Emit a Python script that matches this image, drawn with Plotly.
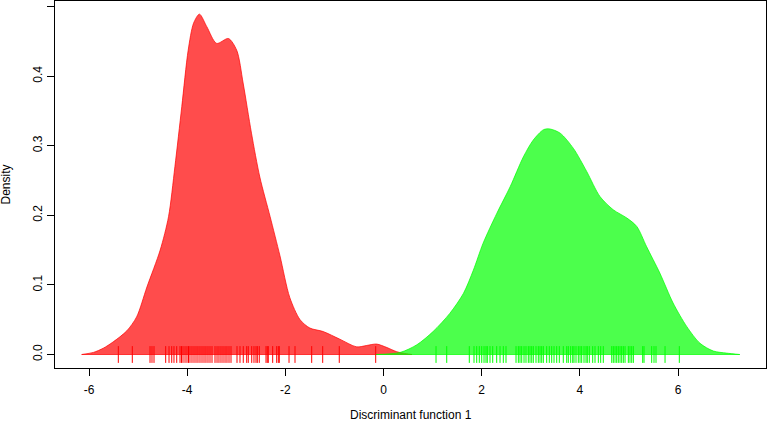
import plotly.graph_objects as go

# Density curve of group 1 (red)
red_x = [-6.15, -5.91, -5.71, -5.51, -5.23, -5.03, -4.82, -4.55, -4.38, -4.25, -4.11, -3.98,
         -3.87, -3.75, -3.60, -3.40, -3.16, -2.99, -2.86, -2.69, -2.52, -2.31, -2.11, -1.91,
         -1.70, -1.50, -1.23, -0.89, -0.55, -0.34, -0.14, 0.07, 0.27, 0.47, 0.58]
red_y = [0.000, 0.003, 0.009, 0.018, 0.034, 0.054, 0.097, 0.150, 0.198, 0.270, 0.356, 0.437,
         0.476, 0.489, 0.471, 0.447, 0.454, 0.437, 0.390, 0.318, 0.255, 0.198, 0.142, 0.082,
         0.050, 0.038, 0.033, 0.022, 0.011, 0.013, 0.015, 0.010, 0.004, 0.001, 0.000]

# Density curve of group 2 (green)
green_x = [-0.16, 0.34, 0.68, 1.01, 1.35, 1.63, 1.83, 2.03, 2.31, 2.58, 2.85, 3.05, 3.26, 3.39,
           3.60, 3.87, 4.14, 4.41, 4.68, 4.96, 5.16, 5.36, 5.63, 5.90, 6.18, 6.45, 6.72, 6.99, 7.26]
green_y = [0.000, 0.003, 0.014, 0.033, 0.059, 0.088, 0.121, 0.160, 0.203, 0.241, 0.284, 0.308,
           0.323, 0.324, 0.318, 0.296, 0.263, 0.227, 0.208, 0.196, 0.184, 0.155, 0.117, 0.074,
           0.040, 0.016, 0.005, 0.002, 0.000]

# Individual scores (rug)
red_rug = [-5.403, -5.118, -4.757, -4.717, -4.676, -4.438, -4.370, -4.315, -4.269, -4.213,
           -4.146, -4.116, -4.085, -4.044, -4.004, -3.973, -3.943, -3.902, -3.861, -3.820,
           -3.780, -3.739, -3.698, -3.657, -3.617, -3.576, -3.535, -3.494, -3.433, -3.392,
           -3.352, -3.311, -3.270, -3.229, -3.189, -3.148, -3.107, -2.985, -2.924, -2.857,
           -2.787, -2.755, -2.685, -2.639, -2.598, -2.571, -2.531, -2.394, -2.368, -2.347,
           -2.258, -2.176, -2.143, -2.123, -1.925, -1.803, -1.463, -1.239, -0.901, -0.159]
green_rug = [1.070, 1.288, 1.748, 1.844, 1.899, 1.952, 2.001, 2.048, 2.088, 2.115, 2.170,
             2.225, 2.306, 2.374, 2.441, 2.496, 2.700, 2.747, 2.781, 2.816, 2.863, 2.903,
             2.950, 2.985, 3.020, 3.052, 3.107, 3.154, 3.189, 3.223, 3.256, 3.325, 3.378,
             3.427, 3.474, 3.529, 3.582, 3.663, 3.733, 3.765, 3.814, 3.855, 3.881, 3.922,
             3.969, 4.004, 4.038, 4.085, 4.126, 4.152, 4.193, 4.262, 4.309, 4.377, 4.425,
             4.478, 4.650, 4.682, 4.717, 4.751, 4.784, 4.819, 4.853, 4.886, 4.921, 4.988,
             5.022, 5.057, 5.090, 5.281, 5.308, 5.464, 5.511, 5.552, 5.736, 6.027]

x_ticks = [-6, -4, -2, 0, 2, 4, 6]
y_ticks = [0.0, 0.1, 0.2, 0.3, 0.4, 0.5]
y_tick_labels = ["0.0", "0.1", "0.2", "0.3", "0.4", "0.5"]

FONT = "Liberation Sans, Arial, sans-serif"

fig = go.Figure()

groups = [
    (red_x, red_y, red_rug, "rgba(255,0,0,0.7)", "#ff0000"),
    (green_x, green_y, green_rug, "rgba(0,255,0,0.7)", "#00ff00"),
]
for cx, cy, rug, fillc, solid in groups:
    fig.add_trace(go.Scatter(
        x=cx, y=cy, mode="lines", fill="tozeroy", fillcolor=fillc,
        line=dict(color=fillc, width=1, shape="spline", smoothing=0.8),
        hoverinfo="skip", showlegend=False))
    fig.add_trace(go.Scatter(
        x=[cx[0], cx[-1]], y=[0, 0], mode="lines",
        line=dict(color=fillc, width=1), hoverinfo="skip", showlegend=False))
for cx, cy, rug, fillc, solid in groups:
    fig.add_trace(go.Scatter(
        x=rug, y=[0] * len(rug), mode="markers",
        marker=dict(symbol="line-ns", size=12, color=solid, line=dict(color=solid, width=1)),
        hoverinfo="skip", showlegend=False))

fig.update_layout(
    width=767, height=423,
    margin=dict(l=55, r=1, t=1, b=55),
    paper_bgcolor="white", plot_bgcolor="white",
    font=dict(family=FONT, size=12, color="black"),
    xaxis=dict(range=[-6.693, 7.793], tickvals=x_ticks, ticktext=[str(v) for v in x_ticks],
               showgrid=False, zeroline=False, showline=True, mirror=True,
               linecolor="black", linewidth=1, ticks="outside", ticklen=7,
               tickcolor="black", tickfont=dict(size=12), ticklabelstandoff=4),
    yaxis=dict(range=[-0.0194, 0.5079], tickvals=y_ticks, ticktext=y_tick_labels,
               tickangle=-90, showgrid=False, zeroline=False, showline=True, mirror=True,
               linecolor="black", linewidth=1, ticks="outside", ticklen=7,
               tickcolor="black", tickfont=dict(size=12)),
    annotations=[
        dict(text="Discriminant function 1", xref="paper", yref="paper",
             x=0.5, y=-0.128, showarrow=False, xanchor="center", yanchor="middle",
             font=dict(size=12)),
        dict(text="Density", xref="paper", yref="paper", textangle=-90,
             x=-0.0703, y=0.5, showarrow=False, xanchor="center", yanchor="middle",
             font=dict(size=12)),
    ],
)

fig.write_html(
    "out.html",
    config={"displayModeBar": False, "staticPlot": True},
    post_script="document.body.style.margin='0';document.body.style.padding='0';",
)
